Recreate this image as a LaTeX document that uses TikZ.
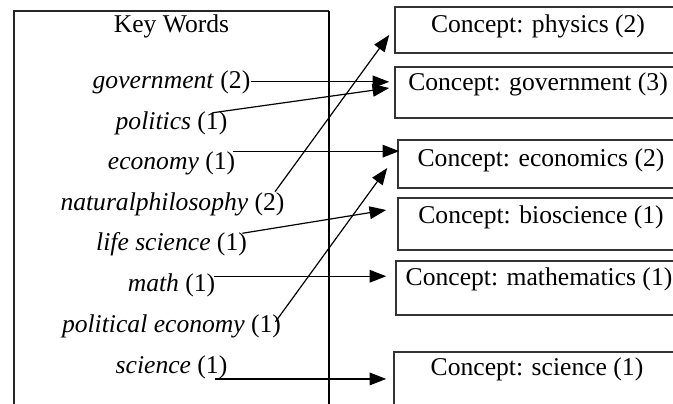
\documentclass[tikz,border=0pt]{standalone}
\usepackage{fontspec}
\setmainfont{Liberation Serif}
\usetikzlibrary{arrows.meta,calc}

\tikzset{every picture/.style={line width=0.75pt}}
\tikzset{
  keyword/.style={inner sep=0pt, anchor=base, font=\fontsize{19.2}{23}\selectfont},
  concept/.style 2 args={draw=black!80, line width=1.2pt, inner sep=0pt, anchor=base,
    minimum width=214.5pt, text height=#1, text depth=#2, font=\fontsize{19.2}{23}\selectfont},
  link/.style={line width=0.9pt, -{Triangle[length=12.5pt,width=9.5pt]}}
}

\begin{document}
\begin{tikzpicture}[x=0.75pt,y=0.75pt,yscale=-1,xscale=1]

\clip (0,0) rectangle (673,403);

% key word frame, open at the bottom
\draw [line width=1.3pt, black!85] (14,430) -- (14,11) -- (329,11);
\draw [line width=0.9pt] (329,11) -- (329,430);

\node[keyword] (title) at (171.5,33) {Key Words};
\node[keyword] (kgov) at (171.5,88) {\textit{government} (2)};
\node[keyword] (kpol) at (171.5,129) {\textit{politics} (1)};
\node[keyword] (keco) at (171.5,169.4) {\textit{economy} (1)};
\node[keyword] (knat) at (172.5,210) {\textit{naturalphilosophy} (2)};
\node[keyword] (klife) at (171.5,250.8) {\textit{life science} (1)};
\node[keyword] (kmath) at (171.5,291.5) {\textit{math} (1)};
\node[keyword] (kpeco) at (171.5,332) {\textit{political economy} (1)};
\node[keyword] (ksci) at (171.5,373) {\textit{science} (1)};

% concept boxes, running off the right edge
\node[concept={19.5pt}{15pt}] (cphys) at (538,33) {Concept: physics (2)};
\node[concept={17.25pt}{21pt}] (cgov) at (538,90) {Concept: government (3)};
\node[concept={19.5pt}{16.5pt}] (ceco) at (541,166) {Concept: economics (2)};
\node[concept={18.75pt}{20.25pt}] (cbio) at (541,223) {Concept: bioscience (1)};
\node[concept={18pt}{22.5pt}] (cmath) at (539,285) {Concept: mathematics (1)};
\node[concept={17.25pt}{35pt}] (csci) at (537,375) {Concept: science (1)};

% keyword -> concept links
\draw[link] (kgov.east) -- ($(kgov.east -| cgov.west)+(-5,0)$);
\draw[link] ($(kpol.north east)+(-15,2)$) -- ($(cgov.west)+(-5,-4.5)$);
\draw[link] ($(keco.north east)+(-3,0)$) coordinate (s) -- ($(s -| ceco.west)+(2,0)$);
\draw[link] ($(knat.north east)+(-10,0)$) -- ($(cphys.west)+(-5,5)$);
\draw[link] ($(klife.north east)+(-5,1)$) -- ($(cbio.west)+(-11,-14)$);
\draw[link] ($(kmath.north east)+(-2,3)$) coordinate (s) -- ($(s -| cmath.west)+(-9,0)$);
\draw[link] ($(kpeco.north east)+(-6,8)$) -- ($(ceco.west)+(-10,4)$);
\draw[link] ($(ksci.south east)+(-13,0)$) coordinate (s) -- ($(s -| csci.west)+(-7,0)$);

\end{tikzpicture}
\end{document}
